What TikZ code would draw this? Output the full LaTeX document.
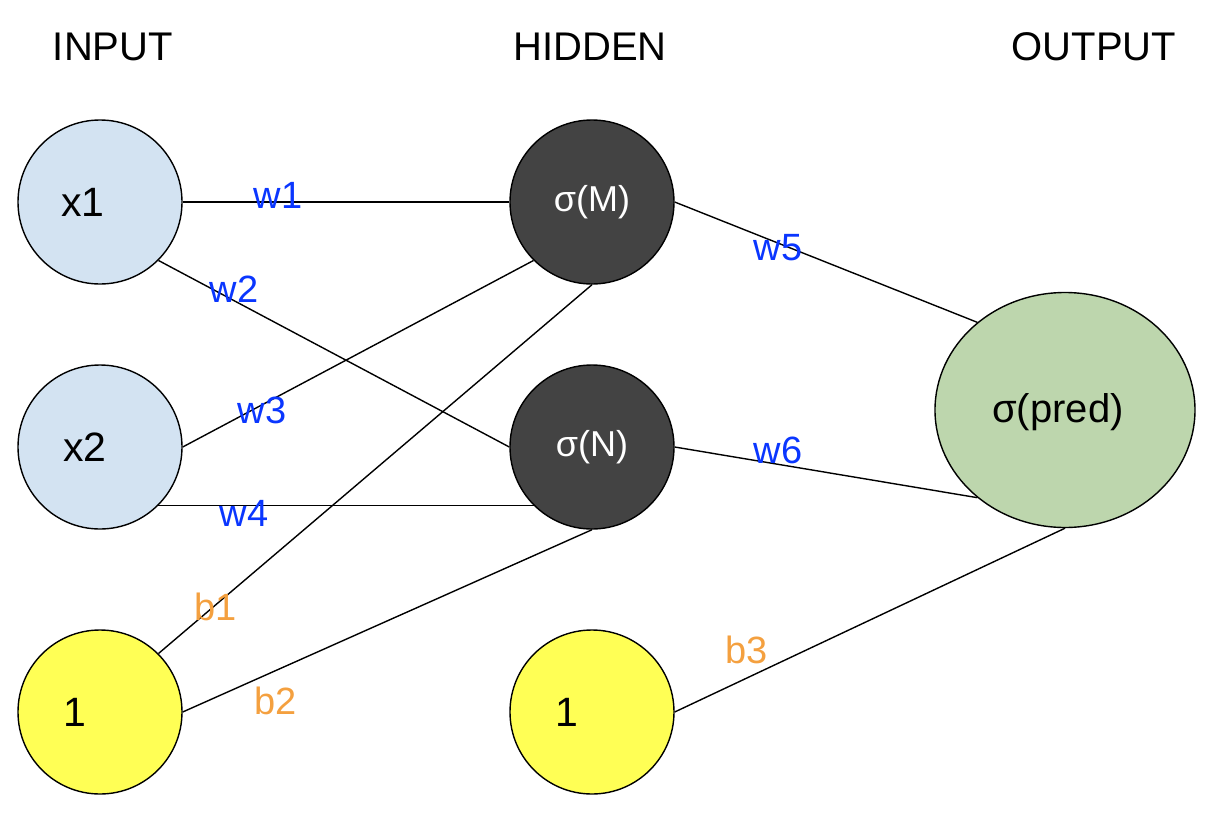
\documentclass[tikz,border=0pt]{standalone}
\usepackage{fontspec}
\setmainfont{Liberation Sans}
\usetikzlibrary{shapes.geometric}
\definecolor{inblue}{HTML}{D3E3F2}
\definecolor{hidgray}{HTML}{434343}
\definecolor{outgreen}{HTML}{BDD6AD}
\definecolor{biasyellow}{HTML}{FFFF55}
\definecolor{wblue}{HTML}{0A36FF}
\definecolor{borange}{HTML}{F4A03F}
\tikzset{
  neuron/.style={circle, draw=black, line width=0.7pt, minimum size=82pt, inner sep=0pt},
  inneuron/.style={neuron, fill=inblue},
  hidneuron/.style={neuron, fill=hidgray},
  biasneuron/.style={neuron, fill=biasyellow},
  outneuron/.style={ellipse, draw=black, line width=0.7pt, fill=outgreen, minimum width=130pt, minimum height=117.5pt, inner sep=0pt},
  ntext/.style={font=\fontsize{20.5}{24}\selectfont, text=black},
  htext/.style={font=\fontsize{18}{22}\selectfont, text=white},
  title/.style={font=\fontsize{20}{24}\selectfont, text=black},
  wlab/.style={font=\fontsize{19}{23}\selectfont, text=wblue, inner sep=0pt},
  blab/.style={font=\fontsize{19}{23}\selectfont, text=borange, inner sep=0pt},
  conn/.style={draw=black, line width=0.7pt},
}
\begin{document}
\begin{tikzpicture}[x=0.5pt, y=-0.5pt]
\useasboundingbox (0,0) rectangle (1212,820);

% titles
\node[title] (tin) at (113,47) {INPUT};
\node[title] (thid) at (590,47) {HIDDEN};
\node[title] (tout) at (1094,47) {OUTPUT};

% neurons
\node[inneuron, label={[ntext, xshift=-8.5pt]center:x1}] (x1) at (100,202) {};
\node[inneuron, label={[ntext, xshift=-7.5pt]center:x2}] (x2) at (100,447) {};
\node[biasneuron, label={[ntext, xshift=-12.5pt]center:1}] (b1) at (100,712) {};
\node[hidneuron, label={[htext]center:σ(M)}] (M) at (592,202) {};
\node[hidneuron, label={[htext]center:σ(N)}] (N) at (592,447) {};
\node[biasneuron, label={[ntext, xshift=-12.5pt]center:1}] (b2) at (592,712) {};
\node[outneuron, label={[title, xshift=-3.5pt, yshift=-1pt]center:σ(pred)}] (P) at (1065,410) {};

% connectors
\draw[conn] (x1.east) -- (M.west);
\draw[conn] (x1.-45) -- (N.west);
\draw[conn] (x2.east) -- (M.-135);
\draw[conn] (x2.-45) -- (N.-135);
\draw[conn] (b1.45) -- (M.south);
\draw[conn] (b1.east) -- (N.south);
\draw[conn] (M.east) -- (P.135);
\draw[conn] (N.east) -- (P.-135);
\draw[conn] (b2.east) -- (P.south);

% labels
\node[wlab] (lw1) at (278,195) {w1};
\node[wlab] (lw2) at (234,289) {w2};
\node[wlab] (lw3) at (262,410) {w3};
\node[wlab] (lw4) at (244,513) {w4};
\node[wlab] (lw5) at (778,248) {w5};
\node[wlab] (lw6) at (778,450) {w6};
\node[blab] (lb1) at (216,607) {b1};
\node[blab] (lb2) at (276,701) {b2};
\node[blab] (lb3) at (747,650) {b3};
\end{tikzpicture}
\end{document}
